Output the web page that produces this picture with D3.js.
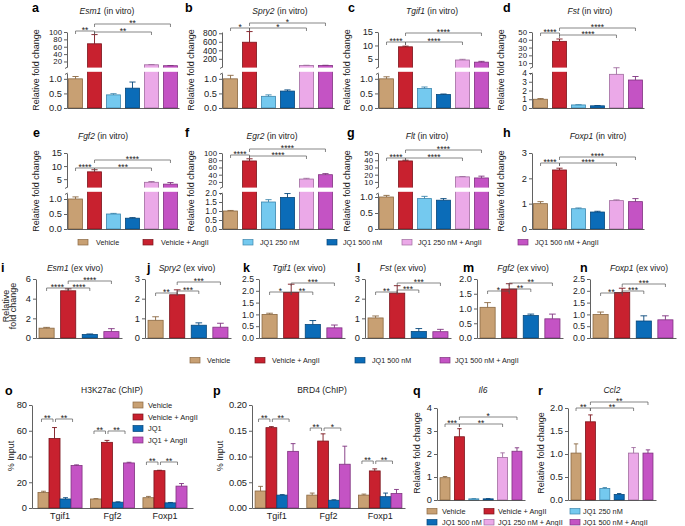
<!DOCTYPE html>
<html><head><meta charset="utf-8">
<script src="https://cdn.jsdelivr.net/npm/d3@7"></script>
<style>body{margin:0;background:#fff}svg{font-family:"Liberation Sans",Arial,Helvetica,sans-serif}</style>
</head><body><svg id="c" width="685" height="526"></svg>
<script>
// ---------------- DATA ----------------
const vitroGroups = ["Vehicle","Vehicle + AngII","JQ1 250 nM","JQ1 500 nM","JQ1 250 nM + AngII","JQ1 500 nM + AngII"];
const vivoGroups  = ["Vehicle","Vehicle + AngII","JQ1 500 nM","JQ1 500 nM + AngII"];
const chipGroups  = ["Vehicle","Vehicle + AngII","JQ1","JQ1 + AngII"];
const chipGenes   = ["Tgif1","Fgf2","Foxp1"];

// in vitro (a-h)
const esm1Vitro = [1.0, 68, 0.45, 0.68, 11, 8.5];
const esm1VitroErr = [0.08, 25, 0.04, 0.21, 0.6, 0.4];
const spry2Vitro = [1.0, 590, 0.4, 0.58, 45, 45];
const spry2VitroErr = [0.12, 250, 0.05, 0.04, 3, 3];
const tgif1Vitro = [1.0, 9.5, 0.67, 0.46, 4.6, 3.8];
const tgif1VitroErr = [0.07, 0.25, 0.05, 0.02, 0.25, 0.3];
const fstVitro = [1.0, 38, 0.35, 0.25, 3.85, 3.2];
const fstVitroErr = [0.08, 3, 0.03, 0.03, 0.2, 0.4];
const fgf2Vitro = [1.0, 7.8, 0.5, 0.36, 3.8, 3.1];
const fgf2VitroErr = [0.07, 0.8, 0.02, 0.02, 0.3, 0.6];
const egr2Vitro = [1.0, 78, 1.5, 1.75, 28, 40];
const egr2VitroErr = [0.03, 6, 0.13, 0.22, 2, 3];
const fltVitro = [1.0, 39, 0.95, 0.9, 17, 15.5];
const fltVitroErr = [0.05, 1, 0.07, 0.05, 0.5, 2.5];
const foxp1Vitro = [1.0, 2.33, 0.8, 0.67, 1.12, 1.08];
const foxp1VitroErr = [0.08, 0.07, 0.03, 0.03, 0.03, 0.12];

// ex vivo (i-n)
const esm1Vivo = [1.0, 4.8, 0.35, 0.65];
const esm1VivoErr = [0.08, 0.2, 0.06, 0.3];
const spry2Vivo = [0.9, 2.2, 0.65, 0.55];
const spry2VivoErr = [0.18, 0.25, 0.12, 0.2];
const tgif1Vivo = [1.0, 1.93, 0.57, 0.43];
const tgif1VivoErr = [0.05, 0.35, 0.17, 0.12];
const fstVivo = [1.02, 2.28, 0.33, 0.32];
const fstVivoErr = [0.1, 0.38, 0.15, 0.12];
const fgf2Vivo = [1.04, 1.66, 0.76, 0.65];
const fgf2VivoErr = [0.16, 0.18, 0.05, 0.16];
const foxp1Vivo = [1.0, 1.93, 0.72, 0.77];
const foxp1VivoErr = [0.1, 0.18, 0.22, 0.17];

// ChIP (o, p)  rows = genes, columns = chipGroups
const h3k27ac = [[12, 54, 7, 33], [7, 51, 4.5, 35], [8, 29, 4, 17]];
const h3k27acErr = [[1, 8.5, 1, 0.5], [0.3, 1.5, 0.3, 0.5], [1, 0.3, 0.3, 2]];
const brd4 = [[0.033, 0.156, 0.025, 0.11], [0.025, 0.13, 0.015, 0.085], [0.025, 0.072, 0.022, 0.028]];
const brd4Err = [[0.009, 0.002, 0.001, 0.015], [0.004, 0.014, 0.001, 0.035], [0.002, 0.004, 0.007, 0.008]];

// q, r
const il6 = [0.97, 2.75, 0.05, 0.05, 1.85, 2.12];
const il6Err = [0.05, 0.35, 0.01, 0.01, 0.2, 0.15];
const ccl2 = [1.02, 1.7, 0.25, 0.12, 1.02, 1.02];
const ccl2Err = [0.2, 0.15, 0.02, 0.02, 0.12, 0.07];

// significance labels
const sigVitro = {a:["**","**","**"], b:["*","*","*"], c:["****","****","****"], d:["****","****","****"],
                  e:["****","***","****"], f:["****","****","****"], g:["****","****","****"], h:["****","****","****"]};
const sigVivo = {i:["****","****","****"], j:["**","***","***"], k:["*","**","***"],
                 l:["**","***","***"], m:["*","**","**"], n:["**","***","***"]};
const sigH3k27ac = [["**","**"],["**","**"],["**","**"]];
const sigBrd4 = [["**","**"],["**","*"],["**","**"]];
const sigIl6 = ["***","**","*"];
const sigCcl2 = ["**","**","**"];

// ---------------- STYLE ----------------
const COL = {
  "Vehicle": ["#c8a073", "#8a6842"],
  "Vehicle + AngII": ["#c8212f", "#7a141c"],
  "JQ1 250 nM": ["#74c9ef", "#3c86ad"],
  "JQ1 500 nM": ["#0b6cb8", "#06467a"],
  "JQ1 250 nM + AngII": ["#eba9e8", "#a06c9f"],
  "JQ1 500 nM + AngII": ["#c453c4", "#7f327f"],
  "JQ1": ["#0b6cb8", "#06467a"],
  "JQ1 + AngII": ["#c453c4", "#7f327f"]
};
const AX = "#3a3a3a";
const svg = d3.select("#c");
const f1 = d3.format(".1f"), fd = d3.format("d"), f2 = d3.format(".2f");
const fg = d => d === 0 ? "0" : f1(d);

function styleAxis(sel, fs) {
  sel.attr("font-family", null).attr("font-size", null);
  sel.selectAll("path.domain").attr("stroke", AX).attr("stroke-width", 0.8);
  sel.selectAll(".tick line").attr("stroke", AX).attr("stroke-width", 0.8);
  sel.selectAll(".tick text").attr("fill", "#222").style("font-size", fs + "px");
}
function leftAxis(scale, ticks, fmt, x0, fs) {
  const a = svg.append("g").attr("transform", `translate(${x0},0)`)
    .call(d3.axisLeft(scale).tickValues(ticks).tickFormat(fmt).tickSize(3).tickSizeOuter(0).tickPadding(2));
  styleAxis(a, fs || 9.3);
}
function bottomAxis(scale, y, labels) {
  const ax = d3.axisBottom(scale).tickSize(0).tickSizeOuter(0).tickPadding(5);
  if (!labels) ax.tickFormat("");
  const a = svg.append("g").attr("transform", `translate(0,${y})`).call(ax);
  styleAxis(a, 9);
}
function bracket(x1, x2, y, txt) {
  svg.append("path").attr("d", `M${x1},${y + 3}V${y}H${x2}V${y + 3}`)
    .attr("fill", "none").attr("stroke", "#555").attr("stroke-width", 0.7);
  svg.append("text").attr("x", (x1 + x2) / 2).attr("y", y + 2.2).attr("text-anchor", "middle")
    .attr("font-size", 8.5).attr("fill", "#222").text(txt);
}
function letter(t, x, y) {
  svg.append("text").attr("x", x).attr("y", y).attr("font-size", 12.5).attr("font-weight", "bold").text(t);
}
function title(x, y, it, rest) {
  const t = svg.append("text").attr("x", x).attr("y", y).attr("text-anchor", "middle").attr("font-size", 8.5).attr("fill", "#222");
  if (it) t.append("tspan").attr("font-style", "italic").text(it);
  if (rest) t.append("tspan").text(rest);
}
function ylabel(lines, x, y, step) {
  lines.forEach((l, i) => {
    svg.append("text").attr("transform", `translate(${x + i * (step || 0)},${y}) rotate(-90)`)
      .attr("text-anchor", "middle").attr("font-size", 9).attr("fill", "#222").text(l);
  });
}
function bars(x, y, groups, vals, errs, bottom, brk) {
  const d = groups.map((k, i) => ({k, v: vals[i], e: errs[i]}));
  const bw = x.bandwidth();
  svg.append("g").selectAll("rect").data(d).join("rect")
    .attr("x", a => x(a.k)).attr("width", bw)
    .attr("y", a => y(a.v)).attr("height", a => bottom - y(a.v))
    .attr("fill", a => COL[a.k][0]).attr("stroke", a => COL[a.k][1]).attr("stroke-width", 0.8);
  const eg = svg.append("g");
  eg.selectAll("path").data(d).join("path")
    .attr("d", a => {
      const cx = x(a.k) + bw / 2, y1 = y(a.v), y2 = y(a.v + a.e), c = bw * 0.22;
      return `M${cx},${y1}V${y2}M${cx - c},${y2}H${cx + c}`;
    })
    .attr("fill", "none").attr("stroke", a => COL[a.k][1]).attr("stroke-width", 0.9);
  if (brk) {
    svg.append("g").selectAll("rect").data(d.filter(a => a.v > brk.lowMax)).join("rect")
      .attr("x", a => x(a.k) - 1).attr("width", bw + 2)
      .attr("y", brk.upBottom + 0.6).attr("height", brk.lowTop - brk.upBottom - 1.8)
      .attr("fill", "#fff");
  }
}

// ---------------- PANELS a-h ----------------
const rows = {
  1: {bottom: 108, top: 32, lowTop: 73, upBottom: 67, letterY: 12, titleY: 14, ylabY: 70},
  2: {bottom: 229, top: 153, lowTop: 193, upBottom: 187, letterY: 137, titleY: 139, ylabY: 191}
};
const vitroPanels = [
  {id: "a", gene: "Esm1", vals: esm1Vitro, errs: esm1VitroErr, row: 1, x0: 67, lx: 32, tx: 107,
   brk: {lowMax: 1.2, up: [5, 100], lowTicks: [0, 0.5, 1], upTicks: [20, 40, 60, 80, 100], lowFmt: f1, upFmt: fd, upFs: 7.8}, by: [31, 32, 24]},
  {id: "b", gene: "Spry2", vals: spry2Vitro, errs: spry2VitroErr, row: 1, x0: 222, lx: 185, tx: 280,
   brk: {lowMax: 1.2, up: [8, 830], lowTicks: [0, 0.5, 1], upTicks: [200, 400, 600, 800], lowFmt: f1, upFmt: fd, upFs: 8.4}, by: [28, 28, 23]},
  {id: "c", gene: "Tgif1", vals: tgif1Vitro, errs: tgif1VitroErr, row: 1, x0: 378, lx: 348, tx: 432,
   brk: {lowMax: 1.2, up: [2, 15], lowTicks: [0, 0.5, 1], upTicks: [5, 10, 15], lowFmt: f1, upFmt: fd}, by: [42, 42, 33]},
  {id: "d", gene: "Fst", vals: fstVitro, errs: fstVitroErr, row: 1, x0: 532, lx: 503, tx: 590,
   brk: {lowMax: 4, up: [5, 50], lowTicks: [0, 1, 2, 3, 4], upTicks: [10, 20, 30, 40, 50], lowFmt: fd, upFmt: fd, lowFs: 8.4, upFs: 7.8}, by: [33, 35, 28]},
  {id: "e", gene: "Fgf2", vals: fgf2Vitro, errs: fgf2VitroErr, row: 2, x0: 67, lx: 33, tx: 103,
   brk: {lowMax: 1.2, up: [2, 15], lowTicks: [0, 0.5, 1], upTicks: [5, 10, 15], lowFmt: f1, upFmt: fd}, by: [168, 168, 160]},
  {id: "f", gene: "Egr2", vals: egr2Vitro, errs: egr2VitroErr, row: 2, x0: 222, lx: 185, tx: 272,
   brk: {lowMax: 2, up: [6, 100], lowTicks: [0, 0.5, 1, 1.5, 2], upTicks: [20, 40, 60, 80, 100], lowFmt: f1, upFmt: fd, lowFs: 8.4, upFs: 7.8}, by: [155, 156, 149]},
  {id: "g", gene: "Flt", vals: fltVitro, errs: fltVitroErr, row: 2, x0: 378, lx: 347, tx: 427,
   brk: {lowMax: 1.125, up: [3, 50], lowTicks: [0, 0.5, 1], upTicks: [10, 20, 30, 40, 50], lowFmt: fg, upFmt: fd, upFs: 7.8}, by: [158, 158, 150]},
  {id: "h", gene: "Foxp1", vals: foxp1Vitro, errs: foxp1VitroErr, row: 2, x0: 532, lx: 503, tx: 598,
   max: 3, ticks: [0, 1, 2, 3], fmt: fd, by: [163, 163, 157]}
];
vitroPanels.forEach(p => {
  const R = rows[p.row];
  const x = d3.scaleBand().domain(vitroGroups).range([p.x0, p.x0 + 112]).paddingInner(0.26).paddingOuter(0.08);
  let y, brk = null;
  if (p.brk) {
    brk = Object.assign({}, p.brk, {lowTop: R.lowTop, upBottom: R.upBottom});
    const low = d3.scaleLinear().domain([0, p.brk.lowMax]).range([R.bottom, R.lowTop]);
    const up = d3.scaleLinear().domain(p.brk.up).range([R.upBottom, R.top]);
    y = v => v <= p.brk.lowMax ? low(v) : up(v);
    leftAxis(low, p.brk.lowTicks, p.brk.lowFmt, p.x0, p.brk.lowFs);
    leftAxis(up, p.brk.upTicks, p.brk.upFmt, p.x0, p.brk.upFs);
    const xx = p.x0 + 0.5;
    svg.append("path").attr("d", `M${xx - 2.5},${R.lowTop + 1.5}L${xx},${R.lowTop}M${xx - 2.5},${R.upBottom + 1.5}L${xx},${R.upBottom}`)
      .attr("stroke", AX).attr("stroke-width", 0.8).attr("fill", "none");
  } else {
    y = d3.scaleLinear().domain([0, p.max]).range([R.bottom, R.top]);
    leftAxis(y, p.ticks, p.fmt, p.x0);
  }
  bars(x, y, vitroGroups, p.vals, p.errs, R.bottom, brk);
  bottomAxis(x, R.bottom, false);
  const c = k => x(vitroGroups[k]) + x.bandwidth() / 2;
  const s = sigVitro[p.id];
  bracket(c(0), c(1), p.by[0], s[0]);
  bracket(c(1), c(4), p.by[1], s[1]);
  bracket(c(1), c(5), p.by[2], s[2]);
  letter(p.id, p.lx, R.letterY);
  title(p.tx, R.titleY, p.gene, " (in vitro)");
  ylabel(["Relative fold change"], p.x0 - 28, R.ylabY);
});

function legendRow(items, y, fs) {
  items.forEach(([k, sx, tx]) => {
    svg.append("rect").attr("x", sx).attr("y", y - 2.5).attr("width", 10).attr("height", 5.5)
      .attr("fill", COL[k][0]).attr("stroke", COL[k][1]).attr("stroke-width", 0.7);
    svg.append("text").attr("x", tx).attr("y", y + 2.6).attr("font-size", fs).attr("fill", "#222").text(k);
  });
}
legendRow([[vitroGroups[0], 78, 96], [vitroGroups[1], 143, 161], [vitroGroups[2], 243, 260],
           [vitroGroups[3], 327, 343], [vitroGroups[4], 402, 418], [vitroGroups[5], 518, 535]], 242, 7.2);

// ---------------- PANELS i-n ----------------
const vivoPanels = [
  {id: "i", gene: "Esm1", vals: esm1Vivo, errs: esm1VivoErr, x0: 36, lx: 1, tx: 75, max: 6, ticks: [0, 2, 4, 6], fmt: fd, by: [288, 288, 281]},
  {id: "j", gene: "Spry2", vals: spry2Vivo, errs: spry2VivoErr, x0: 145, lx: 147, tx: 187, max: 3, ticks: [0, 1, 2, 3], fmt: fd, by: [293, 291, 282]},
  {id: "k", gene: "Tgif1", vals: tgif1Vivo, errs: tgif1VivoErr, x0: 259, lx: 243, tx: 299, max: 2.5, ticks: [0, 0.5, 1, 1.5, 2, 2.5], fmt: f1, by: [292, 292, 283]},
  {id: "l", gene: "Fst", vals: fstVivo, errs: fstVivoErr, x0: 365, lx: 357, tx: 403, max: 3, ticks: [0, 1, 2, 3], fmt: fd, by: [292, 290, 283]},
  {id: "m", gene: "Fgf2", vals: fgf2Vivo, errs: fgf2VivoErr, x0: 477, lx: 463, tx: 523, max: 2, ticks: [0, 0.5, 1, 1.5, 2], fmt: f1, by: [291, 289, 283]},
  {id: "n", gene: "Foxp1", vals: foxp1Vivo, errs: foxp1VivoErr, x0: 590, lx: 580, tx: 639, max: 2.5, ticks: [0, 0.5, 1, 1.5, 2, 2.5], fmt: f1, by: [293, 291, 284]}
];
vivoPanels.forEach(p => {
  const bottom = 338, top = 279;
  const x = d3.scaleBand().domain(vivoGroups).range([p.x0, p.x0 + 86]).paddingInner(0.3).paddingOuter(0.14);
  const y = d3.scaleLinear().domain([0, p.max]).range([bottom, top]);
  leftAxis(y, p.ticks, p.fmt, p.x0, p.ticks.length > 5 ? 8.6 : 9.3);
  bars(x, y, vivoGroups, p.vals, p.errs, bottom, null);
  bottomAxis(x, bottom, false);
  const c = k => x(vivoGroups[k]) + x.bandwidth() / 2;
  const s = sigVivo[p.id];
  bracket(c(0), c(1), p.by[0], s[0]);
  bracket(c(1), c(2), p.by[1], s[1]);
  bracket(c(1), c(3), p.by[2], s[2]);
  letter(p.id, p.lx, 272);
  title(p.tx, 271, p.gene, " (ex vivo)");
});
ylabel(["Relative", "fold change"], 8.5, 306, 7.5);
legendRow([[vivoGroups[0], 190, 207], [vivoGroups[1], 255, 272], [vivoGroups[2], 355, 372], [vivoGroups[3], 440, 455]], 360, 7.2);

// ---------------- PANELS o, p ----------------
function chipPanel(vals, errs, sig, x0, x1, po, max, ticks, fmt, by) {
  const bottom = 508, top = 405;
  const xo = d3.scaleBand().domain(chipGenes).range([x0, x1]).paddingInner(0.16).paddingOuter(po);
  const y = d3.scaleLinear().domain([0, max]).range([bottom, top]);
  leftAxis(y, ticks, fmt, x0);
  chipGenes.forEach((gname, gi) => {
    const xs = d3.scaleBand().domain(chipGroups).range([xo(gname), xo(gname) + xo.bandwidth()]).padding(0);
    bars(xs, y, chipGroups, vals[gi], errs[gi], bottom, null);
    const c = k => xs(chipGroups[k]) + xs.bandwidth() / 2;
    bracket(c(0) - 2, c(1) - 1.5, by[gi], sig[gi][0]);
    bracket(c(1) + 1, c(3) - 4, by[gi], sig[gi][1]);
  });
  bottomAxis(xo, bottom, true);
}
chipPanel(h3k27ac, h3k27acErr, sigH3k27ac, 32, 193, 0.114, 80, [0, 20, 40, 60, 80], fd, [419, 431, 462]);
chipPanel(brd4, brd4Err, sigBrd4, 252, 405, 0.06, 0.2, [0, 0.05, 0.1, 0.15, 0.2], f2, [419, 428, 461]);
letter("o", 5, 395); title(112, 393, null, "H3K27ac (ChIP)"); ylabel(["% Input"], 13.5, 456);
letter("p", 213, 395); title(322, 393, null, "BRD4 (ChIP)"); ylabel(["% Input"], 223, 456);
chipGroups.forEach((k, i) => {
  const yy = [405, 417, 428.5, 440][i];
  svg.append("rect").attr("x", 133).attr("y", yy - 3).attr("width", 10).attr("height", 6)
    .attr("fill", COL[k][0]).attr("stroke", COL[k][1]).attr("stroke-width", 0.7);
  svg.append("text").attr("x", 148).attr("y", yy + 2.6).attr("font-size", 7.5).attr("fill", "#222").text(k);
});

// ---------------- PANELS q, r ----------------
function qrPanel(vals, errs, sig, x0, max, ticks, fmt, by) {
  const bottom = 500, top = 408;
  const x = d3.scaleBand().domain(vitroGroups).range([x0, x0 + 88]).paddingInner(0.305).paddingOuter(0.21);
  const y = d3.scaleLinear().domain([0, max]).range([bottom, top]);
  leftAxis(y, ticks, fmt, x0);
  bars(x, y, vitroGroups, vals, errs, bottom, null);
  bottomAxis(x, bottom, false);
  const c = k => x(vitroGroups[k]) + x.bandwidth() / 2;
  bracket(c(0), c(1), by[0], sig[0]);
  bracket(c(1), c(4), by[1], sig[1]);
  bracket(c(1), c(5), by[2], sig[2]);
}
qrPanel(il6, il6Err, sigIl6, 437, 4, [0, 1, 2, 3, 4], fd, [424, 424, 417]);
qrPanel(ccl2, ccl2Err, sigCcl2, 568, 2, [0, 0.5, 1, 1.5, 2], f1, [408, 408, 402]);
letter("q", 413, 395); title(483, 393, "Il6", null); ylabel(["Relative fold change"], 420, 453);
letter("r", 538, 395); title(612, 393, "Ccl2", null); ylabel(["Relative fold change"], 544, 453);
legendRow([[vitroGroups[0], 427, 442], [vitroGroups[1], 484, 498], [vitroGroups[2], 570, 583]], 511, 7.3);
legendRow([[vitroGroups[3], 427, 442], [vitroGroups[4], 484, 498], [vitroGroups[5], 570, 583]], 522, 7.3);
</script></body></html>
